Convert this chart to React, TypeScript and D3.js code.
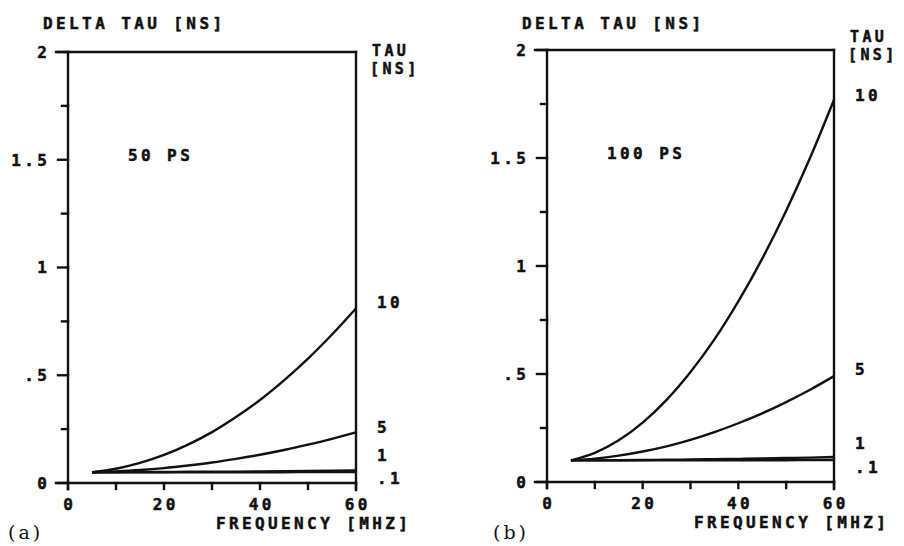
import React from 'react';
import * as d3 from 'd3';

// page size
const svgWidth = 904;
const svgHeight = 546;

// frequency grid (MHz) the curves were read at
const freqMHz = [5, 10, 15, 20, 25, 30, 35, 40, 45, 50, 55, 60];
const tauNames = ['10', '5', '1', '.1'];

// (a) 50 ps : delta tau [ns] per tau
const a_tau10 = [0.05, 0.066, 0.093, 0.13, 0.178, 0.236, 0.306, 0.385, 0.476, 0.577, 0.689, 0.81];
const a_tau5 = [0.05, 0.054, 0.06, 0.069, 0.081, 0.095, 0.112, 0.131, 0.153, 0.178, 0.205, 0.235];
const a_tau1 = [0.05, 0.05, 0.051, 0.051, 0.052, 0.052, 0.053, 0.054, 0.055, 0.056, 0.057, 0.058];
const a_tau01 = [0.05, 0.05, 0.05, 0.05, 0.05, 0.05, 0.05, 0.05, 0.05, 0.051, 0.051, 0.051];

// (b) 100 ps
const b_tau10 = [0.1, 0.135, 0.193, 0.275, 0.38, 0.509, 0.66, 0.836, 1.034, 1.256, 1.501, 1.77];
const b_tau5 = [0.1, 0.108, 0.122, 0.141, 0.165, 0.195, 0.231, 0.272, 0.318, 0.37, 0.427, 0.49];
const b_tau1 = [0.1, 0.1, 0.101, 0.102, 0.103, 0.104, 0.106, 0.107, 0.109, 0.111, 0.113, 0.116];
const b_tau01 = [0.1, 0.1, 0.1, 0.1, 0.1, 0.1, 0.1, 0.101, 0.101, 0.101, 0.102, 0.102];

// axis ticks
const xTickValues = [0, 20, 40, 60];
const xMinorTicks = [0, 10, 20, 30, 40, 50, 60];
const yTickValues = [0, 0.5, 1, 1.5, 2];
const yTickText = ['0', '.5', '1', '1.5', '2'];
const yMinorTicks = [0.25, 0.75, 1.25, 1.75];

// where the tau names sit on the right (in delta tau units)
const a_labelAt = [0.84, 0.26, 0.13, 0.023];
const b_labelAt = [1.79, 0.52, 0.18, 0.07];

const ink = '#111';
const fontSize = 16;
const ls = 3.4; // letter spacing, plotter text is wide
const capHalf = 5.8;
const monoFont = "'DejaVu Sans Mono', monospace";

const panels = [
  { tag: '(a)', pulse: '50 PS', series: [a_tau10, a_tau5, a_tau1, a_tau01], labelAt: a_labelAt,
    left: 68, right: 356, top: 52, bottom: 483, tauY: 51, tagX: 8 },
  { tag: '(b)', pulse: '100 PS', series: [b_tau10, b_tau5, b_tau1, b_tau01], labelAt: b_labelAt,
    left: 547, right: 834, top: 50, bottom: 482, tauY: 37, tagX: 493 },
];

// plotter style text, y is the vertical centre of the caps
const PText = ({ x, y, anchor = 'start', size = fontSize, children }: any) => {
  const shift = anchor === 'middle' ? ls / 2 : anchor === 'end' ? ls : 0;
  return (
    <text x={x + shift} y={y + (capHalf * size) / fontSize} textAnchor={anchor}
      fontFamily={monoFont} fontWeight="bold"
      fontSize={size} letterSpacing={ls} fill={ink}
      stroke={ink} strokeWidth={0.5}>
      {children}
    </text>
  );
};

const Panel = ({ p }: any) => {
  const x = d3.scaleLinear().domain([0, 60]).range([p.left, p.right]);
  const y = d3.scaleLinear().domain([0, 2]).range([p.bottom, p.top]);
  const line = d3.line<number>()
    .x((d, i) => x(freqMHz[i]))
    .y(d => y(d))
    .curve(d3.curveMonotoneX);

  return (
    <g>
      {/* frame */}
      <g stroke={ink} strokeWidth={2.4} fill="none" strokeLinecap="square">
        <line x1={p.left} x2={p.left} y1={p.top} y2={p.bottom + 6} />
        <line x1={p.left - 12} x2={p.right} y1={y(0)} y2={y(0)} />
        <line x1={p.left - 12} x2={p.right} y1={y(2)} y2={y(2)} />
        <line x1={p.right} x2={p.right} y1={p.top} y2={p.bottom + 7} />
        {yTickValues.map(v => (
          <line key={'yt' + v} x1={p.left - 10} x2={p.left} y1={y(v)} y2={y(v)} />
        ))}
        {yMinorTicks.map(v => (
          <line key={'ym' + v} x1={p.left - 6} x2={p.left} y1={y(v)} y2={y(v)} />
        ))}
        {xMinorTicks.map(v => (
          <line key={'xt' + v} x1={x(v)} x2={x(v)} y1={y(0)} y2={y(0) + 6} />
        ))}
      </g>

      {/* curves */}
      {p.series.map((s: number[], i: number) => (
        <path key={'c' + i} d={line(s) || ''} fill="none" stroke={ink} strokeWidth={2.4} />
      ))}

      {/* tick labels */}
      {yTickValues.map((v, i) => (
        <PText key={'yl' + v} x={p.left - 21} y={y(v)} anchor="end">{yTickText[i]}</PText>
      ))}
      {xTickValues.map(v => (
        <PText key={'xl' + v} x={x(v)} y={p.bottom + 21} anchor="middle">{String(v)}</PText>
      ))}

      {/* titles */}
      <PText x={p.left - 25} y={23}>DELTA TAU [NS]</PText>
      <PText x={p.right + 52} y={p.bottom + 40} anchor="end">FREQUENCY [MHZ]</PText>
      {/* two line unit label on the right */}
      <PText x={p.right + 16} y={p.tauY} size={15}>TAU</PText>
      <PText x={p.right + 14} y={p.tauY + 18} size={15}>[NS]</PText>
      <PText x={p.left + 60} y={y(1.52)}>{p.pulse}</PText>
      {tauNames.map((t, i) => (
        <PText key={'tn' + t} x={p.right + 21} y={y(p.labelAt[i])}>{t}</PText>
      ))}

      <text x={p.tagX} y={539} fontFamily="'DejaVu Serif', serif" fontSize={19}
        letterSpacing={3} fill={ink}>{p.tag}</text>
    </g>
  );
};

export default function App() {
  return (
    <svg width={svgWidth} height={svgHeight}
      style={{ position: 'absolute', left: 0, top: 0, background: '#fff' }}>
      {panels.map(p => <Panel key={p.tag} p={p} />)}
    </svg>
  );
}
